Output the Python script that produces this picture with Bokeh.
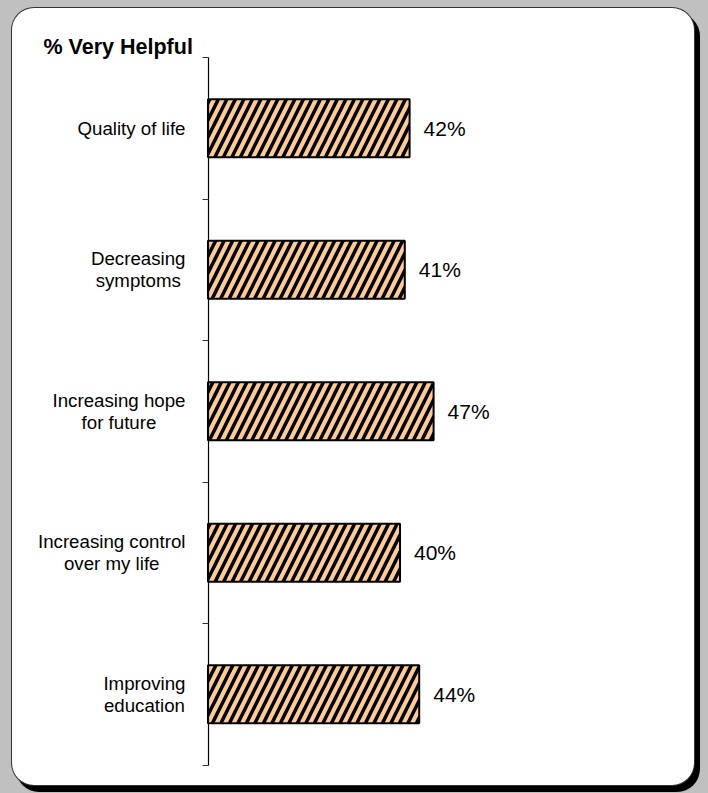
from bokeh.plotting import figure
from bokeh.models import LinearAxis, FixedTicker, GlobalInlineStyleSheet, Range1d
from bokeh.core.properties import value
from bokeh.embed import file_html
from bokeh.resources import INLINE

# ---- data ----
categories = ["Quality of life", "Decreasing\nsymptoms", "Increasing hope\nfor future",
              "Increasing control\nover my life", "Improving\neducation"]
values = [42, 41, 47, 40, 44]
value_labels = [f"{v}%" for v in values]
title_text = "% Very Helpful"

n = len(categories)
positions = [n - 0.5 - i for i in range(n)]

FONT = "Liberation Sans"
CAT_SIZE = 18.7

# ---- layout constants (pixels on the canvas) ----
W, H = 682, 777
X0_PX = 195.5          # canvas x of value 0
X_PX_PER_UNIT = 4.8
Y0_PX = 756.5          # canvas y (from top) of y = 0
Y_TOP_PX = 49.0        # canvas y of y = n
y_ppu = (Y0_PX - Y_TOP_PX) / n

x_start = -X0_PX / X_PX_PER_UNIT
x_end = (W - X0_PX) / X_PX_PER_UNIT
y_start = -(H - Y0_PX) / y_ppu
y_end = n + Y_TOP_PX / y_ppu

# Arial / Liberation Sans advance widths (per 1000 em) for right-aligning centred label blocks
AW = {' ': 278, 'Q': 778, 'D': 722, 'I': 278, 'a': 556, 'c': 500, 'd': 556, 'e': 556,
      'f': 278, 'g': 556, 'h': 556, 'i': 222, 'l': 222, 'm': 833, 'n': 556, 'o': 556,
      'p': 556, 'r': 333, 's': 500, 't': 278, 'u': 556, 'v': 500, 'y': 500}


def block_width(s, size):
    return max(sum(AW.get(c, 556) for c in line) for line in s.split("\n")) * size / 1000.0


p = figure(width=W, height=H, output_backend="svg", toolbar_location=None,
           x_range=Range1d(x_start, x_end), y_range=Range1d(y_start, y_end),
           x_axis_location=None, y_axis_location=None,
           min_border=0)
p.border_fill_color = None
p.background_fill_color = None
p.outline_line_color = None
p.grid.visible = False

p.stylesheets = [GlobalInlineStyleSheet(css="html, body { background-color: #c0c0c0; }")]
p.styles = {"background-color": "white", "border-radius": "22px",
            "box-shadow": "0 0 0 1px #333333, 5px 6px 0 1px #000000",
            "margin-left": "12px", "margin-top": "8px"}

# y axis at value 0: line with outward ticks at the category boundaries, no tick labels
yax = LinearAxis(fixed_location=0, ticker=FixedTicker(ticks=list(range(n + 1))),
                 bounds=(0, n))
yax.major_label_overrides = {i: "" for i in range(n + 1)}
yax.axis_line_color = "black"
yax.axis_line_width = 1.2
yax.major_tick_line_color = "#333333"
yax.major_tick_out = 6
yax.major_tick_in = 0
yax.minor_tick_line_color = None
p.add_layout(yax, "left")

p.hbar(y=positions, left=0, right=values, height=0.41,
       fill_color="#FFCC99", line_color="black", line_width=2,
       hatch_pattern="/", hatch_color="black", hatch_weight=3.5, hatch_scale=17)

p.text(x=values, y=positions, text=value_labels, x_offset=14,
       text_font=value(FONT), text_font_size="21px", text_color="black",
       text_align="left", text_baseline="middle")

label_offsets = [-(22.5 + block_width(c, CAT_SIZE) / 2) for c in categories]
p.text(x=[0] * n, y=positions, text=categories, x_offset=label_offsets,
       text_font=value(FONT), text_font_size=f"{CAT_SIZE}px", text_color="black",
       text_align="center", text_baseline="middle", text_line_height=1.05)

p.text(x=[0], y=[n], text=[title_text], x_offset=-164.5, y_offset=-10.3,
       text_font=value(FONT), text_font_size="21.5px", text_font_style="bold",
       text_color="black", text_align="left", text_baseline="alphabetic")

open("out.html", "w").write(file_html(p, INLINE))
